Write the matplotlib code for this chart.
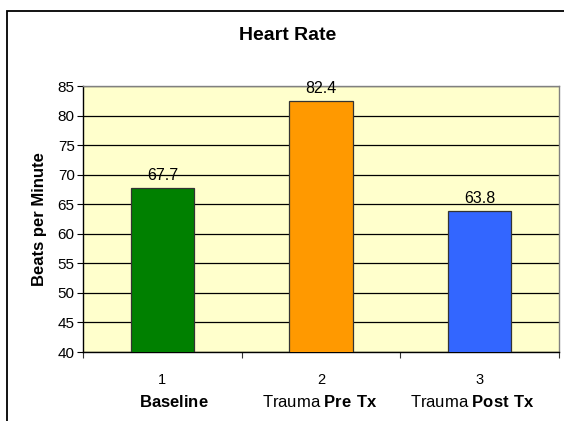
import matplotlib.pyplot as plt
import matplotlib.patches as patches
import matplotlib.transforms as mtransforms

plt.rcParams['font.family'] = ['Liberation Sans', 'DejaVu Sans']
plt.rcParams['mathtext.fontset'] = 'custom'
plt.rcParams['mathtext.rm'] = 'Liberation Sans'
plt.rcParams['mathtext.bf'] = 'Liberation Sans:bold'

# data
positions = [1, 2, 3]
values = [67.7, 82.4, 63.8]
tick_labels = ['1', '2', '3']
group_plain = ['', 'Trauma ', 'Trauma ']
group_bold = ['Baseline', 'Pre Tx', 'Post Tx']
label_shift_px = [12, -1, -7]
bar_colors = ['#008000', '#FF9900', '#3366FF']
yticks = list(range(40, 90, 5))

fig = plt.figure(figsize=(5.64, 4.21), dpi=100)
ax = fig.add_axes([83 / 564, 1 - 352 / 421, 476 / 564, 266 / 421])
ax.set_facecolor('#FFFFCC')

# outer chart border (runs off right/bottom edge)
fig.patches.append(patches.Rectangle((6.5 / 564, -0.2), 1.2, 0.2 + 1 - 10.5 / 421,
                                     transform=fig.transFigure, fill=False,
                                     edgecolor='black', linewidth=1.3, zorder=0))

ax.bar(positions, values, width=0.40, bottom=0, color=bar_colors,
       edgecolor='#333333', linewidth=0.9, zorder=3)

for x, v in zip(positions, values):
    ax.annotate(f'{v:.1f}', (x, v), xytext=(0, 6), textcoords='offset points',
                ha='center', va='baseline', fontsize=11.5, zorder=4)

ax.set_xlim(0.5, 3.5)
ax.set_ylim(40, 85)
ax.set_yticks(yticks)
ax.set_yticklabels([str(t) for t in yticks], fontsize=11)
ax.yaxis.grid(True, color='black', linewidth=0.9, zorder=1)
ax.set_axisbelow(True)

ax.set_xticks([0.5, 1.5, 2.5, 3.5])
ax.set_xticklabels(['', '', '', ''])
ax.set_xticks(positions, minor=True)
ax.set_xticklabels(tick_labels, minor=True, fontsize=10.5)
ax.tick_params(axis='x', which='minor', length=0, pad=15)
ax.tick_params(axis='x', which='major', length=4, direction='out', color='#333333')
ax.tick_params(axis='y', length=4, direction='out', pad=2)

ax.spines['top'].set_color('#808080')
ax.spines['right'].set_color('#808080')
ax.spines['left'].set_color('black')
ax.spines['bottom'].set_color('black')
for s in ax.spines.values():
    s.set_linewidth(1.0)

# category names below the number labels
trans = mtransforms.blended_transform_factory(ax.transData, fig.transFigure)
for x, plain, bold, dx in zip(positions, group_plain, group_bold, label_shift_px):
    txt = plain + r'$\mathbf{' + bold.replace(' ', r'\ ') + '}$'
    ax.text(x, 1 - 402 / 421, txt, transform=trans + mtransforms.Affine2D().translate(dx, 0),
            ha='center', va='center', fontsize=12)

ax.set_ylabel('Beats per Minute', fontsize=12, fontweight='bold', labelpad=8)
fig.text(288 / 564, 1 - 36 / 421, 'Heart Rate', ha='center', va='center',
         fontsize=14, fontweight='bold')

fig.savefig('out.png', dpi=100)
